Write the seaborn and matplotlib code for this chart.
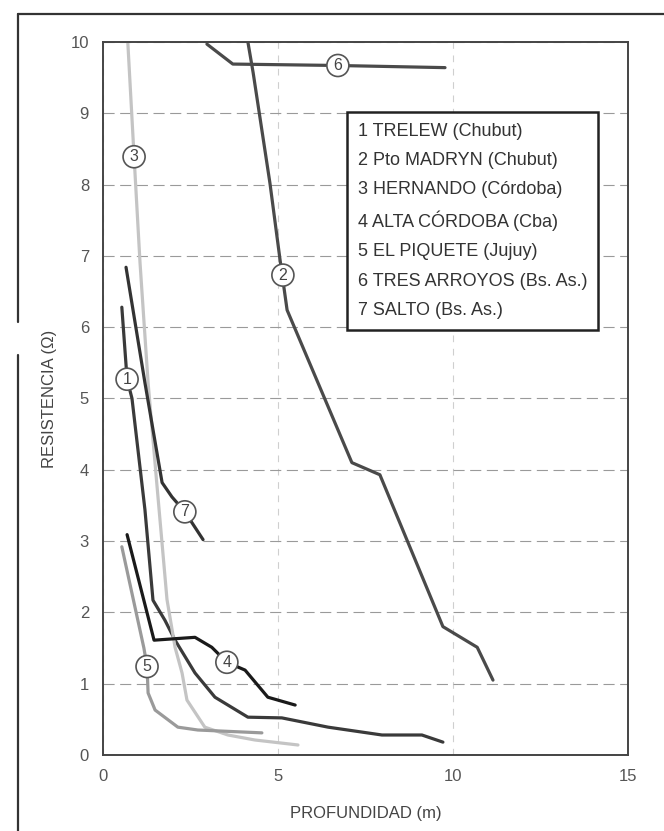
import matplotlib
matplotlib.use('Agg')
import matplotlib.pyplot as plt
import seaborn as sns
import pandas as pd
from matplotlib.lines import Line2D

sns.set_style('white')
plt.rcParams['font.family'] = ['Liberation Sans', 'DejaVu Sans']

# curvas: profundidad (m) / resistencia (ohm)
trelew_x = [0.54, 0.69, 0.83, 1.20, 1.43, 1.77, 2.06, 2.63, 3.20, 4.14, 5.11, 6.43, 7.97, 9.11, 9.71]
trelew_y = [6.28, 5.27, 5.00, 3.44, 2.17, 1.89, 1.61, 1.15, 0.81, 0.53, 0.52, 0.39, 0.28, 0.28, 0.18]

madryn_x = [4.14, 4.29, 4.77, 5.06, 5.26, 7.11, 7.91, 9.71, 10.69, 11.14]
madryn_y = [10.0, 9.57, 8.02, 6.94, 6.24, 4.10, 3.93, 1.80, 1.51, 1.05]

hernando_x = [0.71, 0.89, 1.06, 1.29, 1.54, 1.83, 2.06, 2.26, 2.40, 2.91, 3.57, 4.34, 5.57]
hernando_y = [10.0, 8.39, 6.90, 5.22, 3.80, 2.18, 1.51, 1.15, 0.77, 0.39, 0.28, 0.21, 0.14]

alta_cba_x = [0.69, 1.46, 2.63, 3.11, 3.54, 4.06, 4.71, 5.49]
alta_cba_y = [3.09, 1.61, 1.65, 1.51, 1.30, 1.19, 0.81, 0.70]

piquete_x = [0.54, 1.17, 1.26, 1.29, 1.49, 2.14, 2.71, 4.54]
piquete_y = [2.92, 1.50, 1.24, 0.87, 0.63, 0.39, 0.35, 0.31]

tres_arr_x = [2.97, 3.71, 6.71, 9.77]
tres_arr_y = [9.97, 9.69, 9.67, 9.64]

salto_x = [0.66, 1.20, 1.69, 1.97, 2.34, 2.86]
salto_y = [6.84, 5.22, 3.82, 3.62, 3.41, 3.02]

sitios = ['1 TRELEW (Chubut)', '2 Pto MADRYN (Chubut)', '3 HERNANDO (Córdoba)',
          '4 ALTA CÓRDOBA (Cba)', '5 EL PIQUETE (Jujuy)', '6 TRES ARROYOS (Bs. As.)',
          '7 SALTO (Bs. As.)']
colores = ['#3a3a3a', '#4a4a4a', '#c4c4c4', '#1a1a1a', '#9a9a9a', '#4a4a4a', '#333333']

# posicion de los numeros en circulo
etiqueta_x = [0.69, 5.14, 0.89, 3.54, 1.26, 6.71, 2.34]
etiqueta_y = [5.27, 6.73, 8.39, 1.30, 1.24, 9.67, 3.41]

curvas = [(trelew_x, trelew_y), (madryn_x, madryn_y), (hernando_x, hernando_y),
          (alta_cba_x, alta_cba_y), (piquete_x, piquete_y), (tres_arr_x, tres_arr_y),
          (salto_x, salto_y)]

df = pd.concat([pd.DataFrame({'prof': cx, 'res': cy, 'sitio': s})
                for (cx, cy), s in zip(curvas, sitios)], ignore_index=True)

fig = plt.figure(figsize=(6.64, 8.31), dpi=100)
ax = fig.add_axes([0.155, 0.0915, 0.791, 0.858])

sns.lineplot(data=df, x='prof', y='res', hue='sitio', palette=dict(zip(sitios, colores)),
             estimator=None, sort=False, linewidth=2.3, legend=False, ax=ax)

for i in range(len(sitios)):
    ax.text(etiqueta_x[i], etiqueta_y[i], str(i + 1), ha='center', va='center',
            fontsize=11.5, color='#444', zorder=6,
            bbox=dict(boxstyle='circle,pad=0.22', fc='white', ec='#555', lw=1.2))

ax.set_xlim(0, 15)
ax.set_ylim(0, 10)
ax.set_xticks([0, 5, 10, 15])
ax.set_yticks(range(0, 11))
ax.tick_params(length=0, labelsize=12, labelcolor='#555', pad=10)

ax.yaxis.grid(True, linestyle=(0, (10, 5)), color='#9a9a9a', lw=0.8)
ax.xaxis.grid(True, linestyle=(0, (6, 6)), color='#cfcfcf', lw=0.8)
for sp in ax.spines.values():
    sp.set_color('#444')
    sp.set_linewidth(1.4)

ax.set_xlabel('PROFUNDIDAD (m)', fontsize=12, color='#444', labelpad=16)
ax.set_ylabel('RESISTENCIA (Ω)', fontsize=12, color='#444', labelpad=10)

handles = [Line2D([], [], lw=0) for _ in sitios]
leg = ax.legend(handles, sitios, loc='upper left', bbox_to_anchor=(0.465, 0.902),
                borderaxespad=0, handlelength=0, handletextpad=0, frameon=True,
                fancybox=False, edgecolor='#222', fontsize=13, labelspacing=0.68,
                borderpad=0.6, framealpha=1)
leg.get_frame().set_linewidth(1.8)
for t in leg.get_texts():
    t.set_color('#333')

# marco de la hoja escaneada
fig.add_artist(Line2D([18 / 664, 1], [1 - 14 / 831] * 2, transform=fig.transFigure,
                      color='#333', lw=1.6))
fig.add_artist(Line2D([18 / 664] * 2, [0, 1 - 355 / 831], transform=fig.transFigure,
                      color='#333', lw=1.6))
fig.add_artist(Line2D([18 / 664] * 2, [1 - 322 / 831, 1 - 14 / 831], transform=fig.transFigure,
                      color='#333', lw=1.6))

fig.savefig('out.png', dpi=100)
